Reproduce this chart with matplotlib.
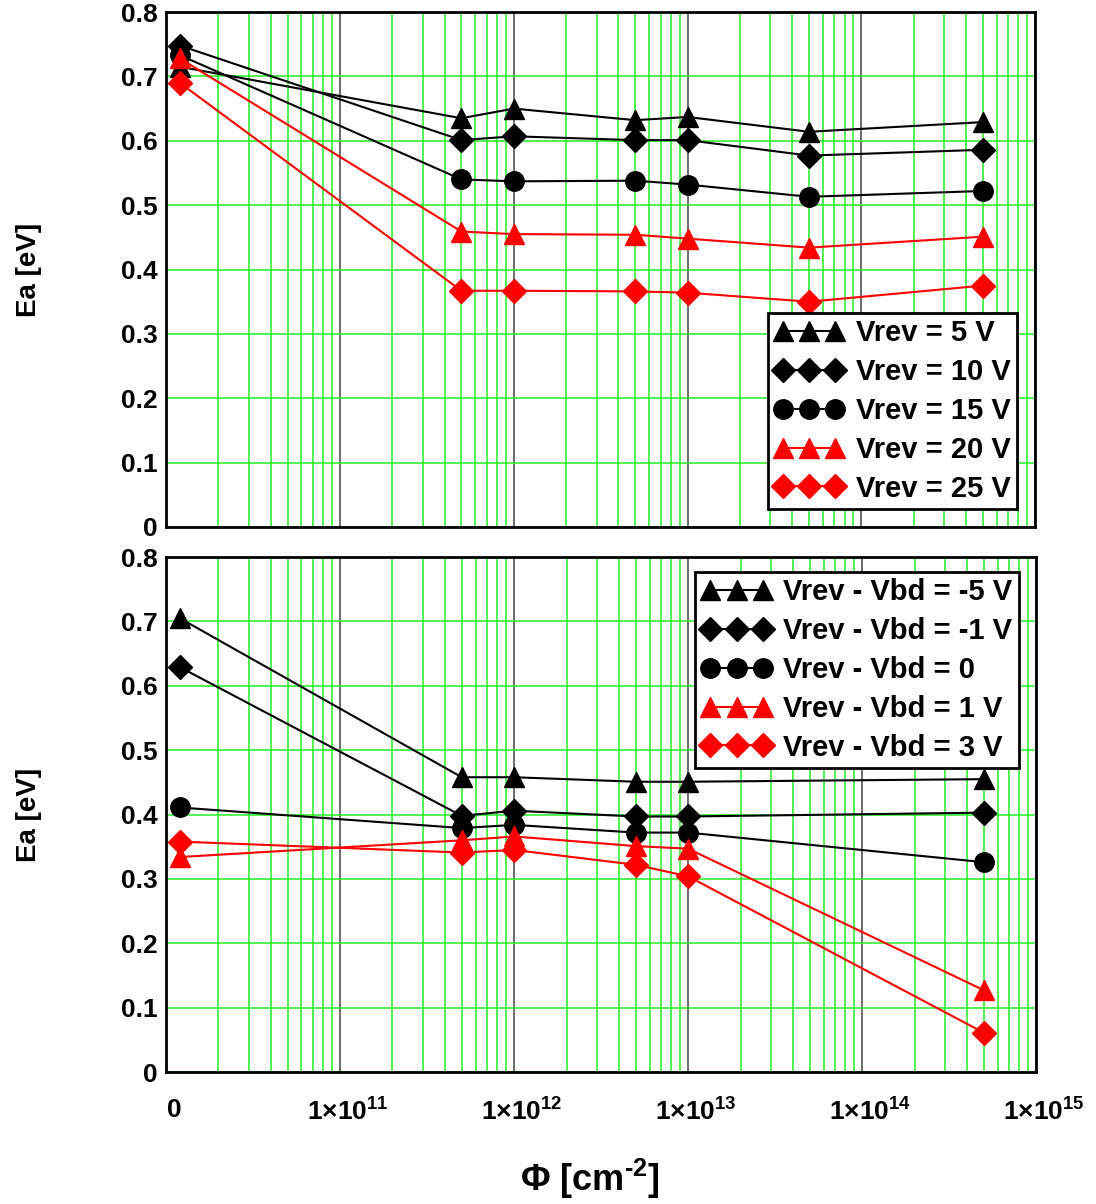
import matplotlib
matplotlib.use('Agg')
import matplotlib.pyplot as plt
from matplotlib.ticker import FixedLocator, FixedFormatter, LogLocator, NullFormatter
import matplotlib.transforms as mtransforms

plt.rcParams['font.family'] = ['Liberation Sans', 'DejaVu Sans']
plt.rcParams['font.weight'] = 'bold'
plt.rcParams['mathtext.fontset'] = 'custom'
plt.rcParams['mathtext.rm'] = 'Liberation Sans:bold'
plt.rcParams['mathtext.bf'] = 'Liberation Sans:bold'
plt.rcParams['mathtext.it'] = 'Liberation Sans:bold'

# fluence, first point is the unirradiated sample (plotted at the "0" position)
phi_top = [1.2e10, 5e11, 1e12, 5e12, 1e13, 5e13, 5e14]
ea_v5 = [0.715, 0.635, 0.650, 0.632, 0.637, 0.614, 0.629]
ea_v10 = [0.748, 0.601, 0.607, 0.601, 0.601, 0.577, 0.586]
ea_v15 = [0.733, 0.540, 0.537, 0.538, 0.532, 0.513, 0.522]
ea_v20 = [0.728, 0.459, 0.455, 0.454, 0.448, 0.434, 0.451]
ea_v25 = [0.690, 0.367, 0.367, 0.366, 0.364, 0.350, 0.375]
labels_top = ['Vrev = 5 V', 'Vrev = 10 V', 'Vrev = 15 V', 'Vrev = 20 V', 'Vrev = 25 V']

phi_bot = [1.2e10, 5e11, 1e12, 5e12, 1e13, 5e14]
ea_dm5 = [0.705, 0.458, 0.458, 0.451, 0.451, 0.455]
ea_dm1 = [0.629, 0.398, 0.406, 0.397, 0.397, 0.403]
ea_d0 = [0.411, 0.379, 0.384, 0.372, 0.372, 0.326]
ea_d1 = [0.334, 0.360, 0.366, 0.351, 0.347, 0.127]
ea_d3 = [0.358, 0.341, 0.345, 0.322, 0.304, 0.061]
labels_bot = ['Vrev - Vbd = -5 V', 'Vrev - Vbd = -1 V', 'Vrev - Vbd = 0',
              'Vrev - Vbd = 1 V', 'Vrev - Vbd = 3 V']

xticks = [1e10, 1e11, 1e12, 1e13, 1e14, 1e15]
xticklabels = ['0', r'$1{\times}10^{11}$', r'$1{\times}10^{12}$', r'$1{\times}10^{13}$',
               r'$1{\times}10^{14}$', r'$1{\times}10^{15}$']
yticks = [0, 0.1, 0.2, 0.3, 0.4, 0.5, 0.6, 0.7, 0.8]
yticklabels = ['0', '0.1', '0.2', '0.3', '0.4', '0.5', '0.6', '0.7', '0.8']

styles = [('k', '^'), ('k', 'D'), ('k', 'o'), ('r', '^'), ('r', 'D')]
msizes = {'^': 14, 'D': 12, 'o': 14}

fig = plt.figure(figsize=(10.96, 12.04), dpi=100)
ax1 = fig.add_axes([0.1515, 0.5623, 0.793, 0.4277])
ax2 = fig.add_axes([0.1515, 0.1096, 0.794, 0.4277])

green = '#22ee22'


def setup(ax, show_x):
    ax.set_xscale('log')
    ax.set_xlim(1e10, 1e15)
    ax.set_ylim(0, 0.8)
    ax.xaxis.set_major_locator(FixedLocator(xticks))
    ax.xaxis.set_minor_locator(LogLocator(base=10, subs=range(2, 10)))
    ax.xaxis.set_minor_formatter(NullFormatter())
    if show_x:
        ax.xaxis.set_major_formatter(FixedFormatter(xticklabels))
    else:
        ax.xaxis.set_major_formatter(NullFormatter())
    ax.yaxis.set_major_locator(FixedLocator(yticks))
    ax.yaxis.set_major_formatter(FixedFormatter(yticklabels))
    ax.grid(True, which='minor', axis='x', color=green, lw=1.1)
    ax.grid(True, which='major', axis='x', color='#444444', lw=1.1)
    ax.grid(True, which='major', axis='y', color=green, lw=1.1)
    ax.set_axisbelow(True)
    ax.tick_params(which='both', length=0)
    ax.tick_params(axis='y', labelsize=19, pad=6)
    ax.tick_params(axis='x', labelsize=19, pad=19)
    for s in ax.spines.values():
        s.set_linewidth(2)
        s.set_color('black')
    ax.set_ylabel('Ea [eV]', fontsize=20, fontweight='bold')
    ax.yaxis.set_label_coords(-0.143, 0.5)


setup(ax1, False)
setup(ax2, True)

for (c, m), y, lab in zip(styles, [ea_v5, ea_v10, ea_v15, ea_v20, ea_v25], labels_top):
    ax1.plot(phi_top, y, color=c, marker=m, ms=msizes[m], lw=1.5, label=lab, clip_on=False)

for (c, m), y, lab in zip(styles, [ea_dm5, ea_dm1, ea_d0, ea_d1, ea_d3], labels_bot):
    ax2.plot(phi_bot, y, color=c, marker=m, ms=msizes[m], lw=1.5, label=lab, clip_on=False)

for ax, loc, anchor in [(ax1, 'lower right', (0.979, 0.035)), (ax2, 'upper right', (0.98, 0.971))]:
    leg = ax.legend(loc=loc, bbox_to_anchor=anchor, numpoints=3, fontsize=21,
                    fancybox=False, framealpha=1, edgecolor='black', borderpad=0.22,
                    handlelength=2.4, handletextpad=0.4, labelspacing=0.37, borderaxespad=0)
    leg.get_frame().set_linewidth(2)

# shift x tick labels slightly right, like the original
offset = mtransforms.ScaledTranslation(8 / 100, 0, fig.dpi_scale_trans)
for lbl in ax2.get_xticklabels():
    lbl.set_transform(lbl.get_transform() + offset)

ax2.set_xlabel('$\\Phi$ [cm$^{\u2010' + '2}$]', fontsize=26, fontweight='bold')
ax2.xaxis.set_label_coords(0.487, -0.165)

fig.savefig('out.png', dpi=100)
